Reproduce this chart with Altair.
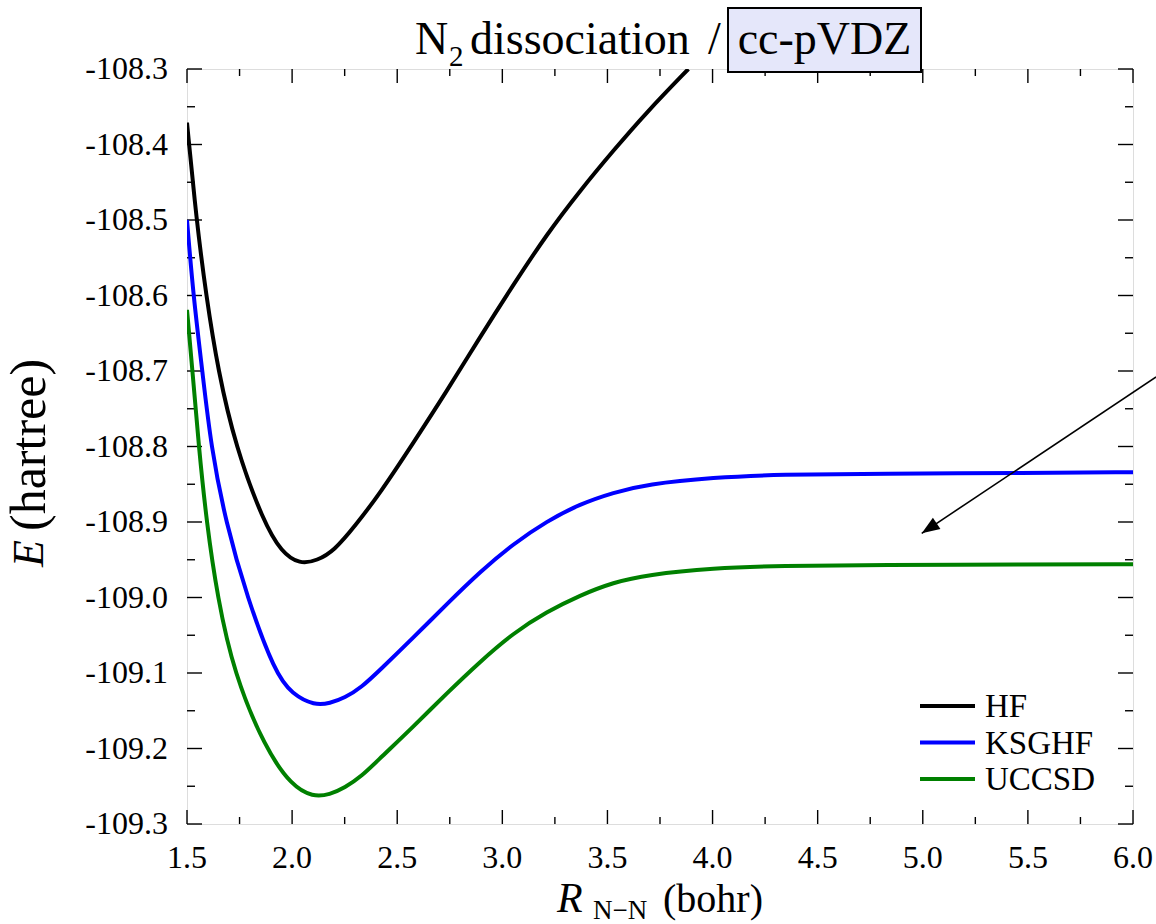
import altair as alt
import pandas as pd

# Potential energy curves of N2: bond length R (bohr) and total energy E (hartree)
hf_r = [1.500, 1.545, 1.591, 1.648, 1.731, 1.864, 1.950, 2.036, 2.120, 2.200,
        2.300, 2.418, 2.577, 2.735, 2.894, 3.052, 3.211, 3.370, 3.528, 3.687, 3.885]
hf_e = [-108.371, -108.500, -108.600, -108.700, -108.800, -108.900, -108.940, -108.956, -108.951, -108.938,
        -108.905, -108.862, -108.795, -108.727, -108.655, -108.586, -108.519, -108.461, -108.408, -108.357,
        -108.300]

ksghf_r = [1.500, 1.530, 1.573, 1.614, 1.684, 1.786, 1.919, 2.000, 2.107, 2.180,
           2.250, 2.330, 2.418, 2.577, 2.735, 2.894, 3.052, 3.211, 3.370, 3.528,
           3.687, 4.004, 4.321, 4.797, 5.500, 6.000]
ksghf_e = [-108.500, -108.600, -108.700, -108.800, -108.900, -109.000, -109.100, -109.128, -109.143, -109.140,
           -109.133, -109.119, -109.096, -109.053, -109.009, -108.966, -108.929, -108.899, -108.876, -108.861,
           -108.850, -108.841, -108.837, -108.836, -108.835, -108.834]

uccsd_r = [1.500, 1.526, 1.556, 1.593, 1.645, 1.723, 1.872, 2.000, 2.098, 2.180,
           2.250, 2.330, 2.418, 2.577, 2.735, 2.894, 3.052, 3.211, 3.370, 3.528,
           3.687, 4.004, 4.321, 4.797, 5.500, 6.000]
uccsd_e = [-108.619, -108.700, -108.800, -108.900, -109.000, -109.100, -109.200, -109.250, -109.264, -109.261,
           -109.252, -109.237, -109.213, -109.171, -109.127, -109.085, -109.047, -109.019, -108.997, -108.980,
           -108.970, -108.961, -108.958, -108.957, -108.956, -108.956]

methods = ["HF", "KSGHF", "UCCSD"]
colors = ["#000000", "#0000ff", "#008000"]

x_major = [1.5, 2.0, 2.5, 3.0, 3.5, 4.0, 4.5, 5.0, 5.5, 6.0]
x_labels = ["1.5", "2.0", "2.5", "3.0", "3.5", "4.0", "4.5", "5.0", "5.5", "6.0"]
x_minor = [1.75, 2.25, 2.75, 3.25, 3.75, 4.25, 4.75, 5.25, 5.75]
y_major = [-108.3, -108.4, -108.5, -108.6, -108.7, -108.8, -108.9, -109.0, -109.1, -109.2, -109.3]
y_labels = ["-108.3", "-108.4", "-108.5", "-108.6", "-108.7", "-108.8", "-108.9",
            "-109.0", "-109.1", "-109.2", "-109.3"]
y_minor = [-108.35, -108.45, -108.55, -108.65, -108.75, -108.85, -108.95, -109.05, -109.15, -109.25]

# arrow annotation: tail (off the right edge) -> head
arrow_r = [6.110, 4.995]
arrow_e = [-108.708, -108.915]

rows = []
for name, rs, es in [("HF", hf_r, hf_e), ("KSGHF", ksghf_r, ksghf_e), ("UCCSD", uccsd_r, uccsd_e)]:
    rows += [{"method": name, "R": r, "E": e} for r, e in zip(rs, es)]
curves = pd.DataFrame(rows)

W, H = 946, 755
FONT = "Liberation Serif"
TICK_FS = 32

xscale = alt.Scale(domain=[1.5, 6.0], nice=False, zero=False)
yscale = alt.Scale(domain=[-109.3, -108.3], nice=False, zero=False)
X = lambda f: alt.X(f, scale=xscale, axis=None)
Y = lambda f: alt.Y(f, scale=yscale, axis=None)

lines = alt.Chart(curves).mark_line(strokeWidth=4, interpolate="basis", clip=True).encode(
    x=X("R:Q"),
    y=Y("E:Q"),
    color=alt.Color("method:N", scale=alt.Scale(domain=methods, range=colors), legend=None),
    order=alt.Order("R:Q"),
)


def xticks(vals, length):
    d = pd.DataFrame({"R": vals})
    base = alt.Chart(d).mark_rule(color="black", strokeWidth=1.4)
    bottom = base.encode(x=X("R:Q"), y=alt.value(H), y2=alt.value(H - length))
    top = base.encode(x=X("R:Q"), y=alt.value(0), y2=alt.value(length))
    return [bottom, top]


def yticks(vals, length):
    d = pd.DataFrame({"E": vals})
    base = alt.Chart(d).mark_rule(color="black", strokeWidth=1.4)
    left = base.encode(y=Y("E:Q"), x=alt.value(0), x2=alt.value(length))
    right = base.encode(y=Y("E:Q"), x=alt.value(W), x2=alt.value(W - length))
    return [left, right]


ticks = xticks(x_major, 14) + xticks(x_minor, 7) + yticks(y_major, 15) + yticks(y_minor, 8)

# tick labels
xlab = alt.Chart(pd.DataFrame({"R": x_major, "t": x_labels})).mark_text(
    font=FONT, fontSize=TICK_FS, align="center", baseline="alphabetic", color="black"
).encode(x=X("R:Q"), y=alt.value(H + 44), text="t:N")
ylab = alt.Chart(pd.DataFrame({"E": y_major, "t": y_labels})).mark_text(
    font=FONT, fontSize=TICK_FS, align="right", baseline="middle", color="black"
).encode(y=Y("E:Q"), x=alt.value(-19), text="t:N")

# arrow
arrow_df = pd.DataFrame({"R": [arrow_r[0]], "E": [arrow_e[0]], "R2": [arrow_r[1]], "E2": [arrow_e[1]]})
arrow_line = alt.Chart(arrow_df).mark_rule(color="black", strokeWidth=1.6).encode(
    x=X("R:Q"), y=Y("E:Q"), x2="R2:Q", y2="E2:Q",
)
head_df = pd.DataFrame({"R": [arrow_r[1] + 0.0356], "E": [arrow_e[1] + 0.0066]})
arrow_head = alt.Chart(head_df).mark_point(
    shape="M0,-1L0.75,1L-0.75,1Z", filled=True, color="black", opacity=1, size=324, angle=236
).encode(x=X("R:Q"), y=Y("E:Q"))

# legend
legend_layers = []
for i, (m, c) in enumerate(zip(methods, colors)):
    ly = 637 + i * 36.5
    ld = pd.DataFrame({"t": [m]})
    legend_layers.append(
        alt.Chart(ld).mark_rule(color=c, strokeWidth=4).encode(
            x=alt.value(733), x2=alt.value(788), y=alt.value(ly))
    )
    legend_layers.append(
        alt.Chart(ld).mark_text(font=FONT, fontSize=33, align="left", baseline="middle",
                                color="black").encode(
            text="t:N", x=alt.value(798), y=alt.value(ly + 1))
    )


def label(txt, x, y, size, italic=False, angle=0, align="left", baseline="alphabetic"):
    d = pd.DataFrame({"t": [txt]})
    kw = dict(font=FONT, fontSize=size, align=align, baseline=baseline, color="black")
    if italic:
        kw["fontStyle"] = "italic"
    if angle:
        kw["angle"] = angle
    return alt.Chart(d).mark_text(**kw).encode(text="t:N", x=alt.value(x), y=alt.value(y))


# title with boxed basis-set name
box = alt.Chart(pd.DataFrame({"t": ["cc-pVDZ"]})).mark_rect(
    fill="#e5e7fa", stroke="black", strokeWidth=2
).encode(x=alt.value(541), x2=alt.value(734), y=alt.value(-61), y2=alt.value(3))

title_layers = [
    label("N", 228, -15, 46),
    label("2", 262, -3, 29),
    label("dissociation", 283, -15, 46),
    label("/", 521, -15, 46),
    box,
    label("cc-pVDZ", 637.5, -15, 46, align="center"),
]

# axis titles
axis_titles = [
    label("R", 370, 843, 42, italic=True),
    label("N\u2212N", 406, 850, 27),
    label("(bohr)", 476, 843, 40),
    label("E", -157, 498, 44, italic=True, angle=270, baseline="middle"),
    label("(hartree)", -157, 462, 50, angle=270, baseline="middle"),
]

chart = alt.layer(
    *ticks, lines, xlab, ylab, arrow_line, arrow_head, *legend_layers, *title_layers, *axis_titles
).properties(
    width=W, height=H,
    padding={"left": 187, "top": 69, "right": 23, "bottom": 100},
    autosize=alt.AutoSizeParams(type="none"),
).configure_view(
    stroke="black", strokeWidth=1.5
).configure(
    background="white"
)

chart.save("out.html", embed_options={"renderer": "svg", "actions": False})
